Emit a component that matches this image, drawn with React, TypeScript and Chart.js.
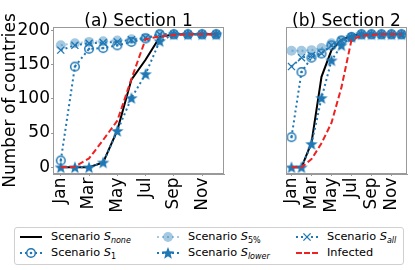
import React, { useEffect, useRef } from "react";
import { Chart, registerables } from "chart.js";

Chart.register(...registerables);

const MONTHS = ["Jan", "Feb", "Mar", "Apr", "May", "Jun", "Jul", "Aug", "Sep", "Oct", "Nov", "Dec"];
const X_TICKS = [0, 2, 4, 6, 8, 10];
const Y_TICKS = [0, 50, 100, 150, 200];
const TITLES = ["(a) Section 1", "(b) Section 2"];
const Y_TITLE = "Number of countries";

// Section 1
const sec1None = [0, 0, 0, 7, 54, 128, 157, 190, 194, 194, 194, 194];
const sec1S1 = [10, 147, 173, 174, 178, 183, 188, 194, 194, 194, 194, 194];
const sec1S5 = [178, 181, 183, 184, 185, 187, 189, 194, 194, 194, 194, 194];
const sec1Lower = [0, 0, 0, 7, 53, 101, 136, 184, 194, 194, 194, 194];
const sec1All = [171, 178, 181, 182, 183, 186, 189, 194, 194, 194, 194, 194];
const sec1Infected = [0, 1, 13, 40, 68, 129, 187, 191, 193, 194, 194, 194];

// Section 2
const sec2None = [0, 0, 36, 132, 171, 186, 192, 194, 194, 194, 194, 194];
const sec2S1 = [44, 139, 160, 166, 178, 185, 190, 194, 194, 194, 194, 194];
const sec2S5 = [170, 170, 171, 174, 181, 185, 190, 194, 194, 194, 194, 194];
const sec2Lower = [0, 0, 34, 101, 156, 178, 190, 194, 194, 194, 194, 194];
const sec2All = [147, 160, 163, 166, 178, 185, 190, 194, 194, 194, 194, 194];
const sec2Infected = [0, 0, 12, 35, 65, 117, 186, 192, 193, 194, 194, 194];

const BLUE = "#1f77b4";
const LIGHT = "rgba(31,119,180,0.4)";
const RED = "#ee2222";
const FRAME = "#999999";
const FONT = '"DejaVu Sans", sans-serif';

function makeRing(): HTMLCanvasElement {
  const c = document.createElement("canvas");
  c.width = 12; c.height = 12;
  const g = c.getContext("2d")!;
  g.strokeStyle = BLUE; g.lineWidth = 1.5;
  g.beginPath(); g.arc(6, 6, 4.3, 0, Math.PI * 2); g.stroke();
  g.fillStyle = BLUE;
  g.beginPath(); g.arc(6, 6, 1.3, 0, Math.PI * 2); g.fill();
  return c;
}

function starPath(g: CanvasRenderingContext2D, cx: number, cy: number, R: number) {
  const r = R * 0.42;
  g.beginPath();
  for (let k = 0; k < 10; k++) {
    const ang = -Math.PI / 2 + (k * Math.PI) / 5;
    const rad = k % 2 === 0 ? R : r;
    const px = cx + rad * Math.cos(ang);
    const py = cy + rad * Math.sin(ang);
    if (k === 0) g.moveTo(px, py); else g.lineTo(px, py);
  }
  g.closePath();
}

function makeStar(): HTMLCanvasElement {
  const c = document.createElement("canvas");
  c.width = 14; c.height = 14;
  const g = c.getContext("2d")!;
  g.fillStyle = BLUE;
  starPath(g, 7, 7.5, 6.5);
  g.fill();
  return c;
}

const pts = (arr: number[]) => arr.map((v, i) => ({ x: i, y: v }));

function buildDatasets(
  none: number[], s1: number[], s5: number[], lower: number[], all: number[], inf: number[],
  ring: HTMLCanvasElement, star: HTMLCanvasElement
) {
  const ds: any[] = [
    { label: "Snone", data: pts(none), borderColor: "#000", borderWidth: 2, pointRadius: 0 },
    { label: "S1", data: pts(s1), borderColor: BLUE, borderWidth: 2, borderDash: [2, 3],
      pointStyle: ring, pointRadius: 5 },
    { label: "S5", data: pts(s5), borderColor: LIGHT, borderWidth: 2, borderDash: [2, 3],
      pointStyle: "circle", pointRadius: 5, pointBackgroundColor: LIGHT, pointBorderWidth: 0 },
    { label: "Slower", data: pts(lower), borderColor: BLUE, borderWidth: 2, borderDash: [2, 3],
      pointStyle: star, pointRadius: 6 },
    { label: "Sall", data: pts(all), borderColor: BLUE, borderWidth: 2, borderDash: [2, 3],
      pointStyle: "crossRot", pointRadius: 5, pointBorderColor: BLUE, pointBorderWidth: 1.3 },
    { label: "Infected", data: pts(inf), borderColor: RED, borderWidth: 2, borderDash: [6, 3],
      pointRadius: 0 },
  ];
  return ds.map((d, i) => ({ ...d, order: ds.length - 1 - i, fill: false, tension: 0 }));
}

function framePlugin(title: string) {
  return {
    id: "frameTitle",
    afterDraw(chart: any) {
      const { ctx, chartArea: a } = chart;
      ctx.save();
      ctx.strokeStyle = FRAME;
      ctx.lineWidth = 1;
      const l = Math.round(a.left) + 0.5, t = Math.round(a.top) + 0.5;
      const r = Math.round(a.right) - 0.5, b = Math.round(a.bottom) - 0.5;
      ctx.strokeRect(l, t, r - l, b - t);
      ctx.fillStyle = "#000";
      ctx.font = `17px ${FONT}`;
      ctx.textAlign = "center";
      ctx.textBaseline = "alphabetic";
      ctx.fillText(title, (a.left + a.right) / 2, 25.5);
      ctx.restore();
    },
  };
}

function makeConfig(datasets: any[], title: string, showY: boolean, padL: number, padR: number): any {
  return {
    type: "line",
    data: { datasets },
    options: {
      animation: false,
      responsive: false,
      maintainAspectRatio: false,
      layout: { padding: { left: padL, right: padR, top: 27, bottom: 0 } },
      plugins: { legend: { display: false }, tooltip: { enabled: false }, title: { display: false } },
      scales: {
        x: {
          type: "linear",
          min: -0.55,
          max: 11.55,
          afterBuildTicks: (s: any) => { s.ticks = X_TICKS.map((v) => ({ value: v })); },
          afterFit: (s: any) => { s.height = 52; },
          ticks: {
            callback: (v: any) => MONTHS[v as number],
            minRotation: 90, maxRotation: 90, autoSkip: false, padding: 1.5,
            color: "#000", font: { family: FONT, size: 17 },
          },
          grid: { display: true, drawOnChartArea: false, drawTicks: true, tickLength: 2, color: FRAME },
          border: { display: true, color: FRAME },
        },
        y: {
          type: "linear",
          display: showY,
          min: -9.75,
          max: 204.75,
          afterBuildTicks: (s: any) => { s.ticks = Y_TICKS.map((v) => ({ value: v })); },
          afterFit: (s: any) => { s.width = 53; },
          ticks: { padding: 1, color: "#000", font: { family: FONT, size: 17 } },
          grid: { display: true, drawOnChartArea: false, drawTicks: true, tickLength: 2, color: FRAME },
          border: { display: true, color: FRAME },
          title: { display: true, text: Y_TITLE, color: "#000", font: { family: FONT, size: 17 }, padding: 0 },
        },
      },
    },
    plugins: [framePlugin(title)],
  };
}

function Handle({ kind }: { kind: string }) {
  const w = 22, h = 14, cy = 7;
  let line: any = null;
  let marker: any = null;
  if (kind === "none") line = <line x1={0} y1={cy} x2={w} y2={cy} stroke="#000" strokeWidth={2} />;
  else if (kind === "inf") line = <line x1={0} y1={cy} x2={w} y2={cy} stroke={RED} strokeWidth={2} strokeDasharray="6 2" />;
  else {
    const col = kind === "s5" ? LIGHT : BLUE;
    line = <line x1={0} y1={cy} x2={w} y2={cy} stroke={col} strokeWidth={2} strokeDasharray="2 3" />;
  }
  if (kind === "s1") {
    marker = (
      <g>
        <circle cx={11} cy={cy} r={4.3} fill="white" stroke={BLUE} strokeWidth={1.5} />
        <circle cx={11} cy={cy} r={1.3} fill={BLUE} />
      </g>
    );
  } else if (kind === "s5") {
    marker = <circle cx={11} cy={cy} r={5} fill={LIGHT} />;
  } else if (kind === "lower") {
    const R = 6.5, r = R * 0.42;
    const p: string[] = [];
    for (let k = 0; k < 10; k++) {
      const ang = -Math.PI / 2 + (k * Math.PI) / 5;
      const rad = k % 2 === 0 ? R : r;
      p.push(`${11 + rad * Math.cos(ang)},${cy + 0.5 + rad * Math.sin(ang)}`);
    }
    marker = <polygon points={p.join(" ")} fill={BLUE} />;
  } else if (kind === "all") {
    const d = 3.6;
    marker = (
      <g stroke={BLUE} strokeWidth={1.3}>
        <line x1={11 - d} y1={cy - d} x2={11 + d} y2={cy + d} />
        <line x1={11 - d} y1={cy + d} x2={11 + d} y2={cy - d} />
      </g>
    );
  }
  return (
    <svg width={w} height={h} style={{ position: "absolute", left: 0, top: 0, overflow: "visible" }}>
      {line}
      {marker}
    </svg>
  );
}

const SUB: React.CSSProperties = { fontSize: "8px", verticalAlign: "-3px", lineHeight: "0" };

const LEGEND_ITEMS = [
  { kind: "none", col: 0, row: 0, label: <>Scenario <i>S</i><span style={SUB}><i>none</i></span></> },
  { kind: "s1", col: 0, row: 1, label: <>Scenario <i>S</i><span style={SUB}>1</span></> },
  { kind: "s5", col: 1, row: 0, label: <>Scenario <i>S</i><span style={SUB}>5%</span></> },
  { kind: "lower", col: 1, row: 1, label: <>Scenario <i>S</i><span style={SUB}><i>lower</i></span></> },
  { kind: "all", col: 2, row: 0, label: <>Scenario <i>S</i><span style={SUB}><i>all</i></span></> },
  { kind: "inf", col: 2, row: 1, label: <>Infected</> },
];
const COL_TEXT_X = [51, 188, 327];
const ROW_Y = [237, 253];

export default function App() {
  const c1 = useRef<HTMLCanvasElement>(null);
  const c2 = useRef<HTMLCanvasElement>(null);

  useEffect(() => {
    const ring = makeRing();
    const star = makeStar();
    const ch1 = new Chart(
      c1.current!,
      makeConfig(buildDatasets(sec1None, sec1S1, sec1S5, sec1Lower, sec1All, sec1Infected, ring, star), TITLES[0], true, 0, 1)
    );
    const ch2 = new Chart(
      c2.current!,
      makeConfig(buildDatasets(sec2None, sec2S1, sec2S5, sec2Lower, sec2All, sec2Infected, ring, star), TITLES[1], false, 1, 5)
    );
    return () => { ch1.destroy(); ch2.destroy(); };
  }, []);

  return (
    <div style={{ position: "fixed", left: 0, top: 0, width: 415, height: 270, background: "#fff", fontFamily: FONT, overflow: "hidden" }}>
      <canvas ref={c1} width={232} height={226} style={{ position: "absolute", left: 0, top: 0, width: 232, height: 226 }} />
      <canvas ref={c2} width={183} height={226} style={{ position: "absolute", left: 232, top: 0, width: 183, height: 226 }} />
      <div style={{ position: "absolute", left: 14, top: 227, width: 388, height: 36, border: "1px solid #d0d0d0", borderRadius: 3, boxSizing: "content-box" }} />
      {LEGEND_ITEMS.map((it, i) => {
        const tx = COL_TEXT_X[it.col];
        const cy = ROW_Y[it.row];
        return (
          <React.Fragment key={i}>
            <div style={{ position: "absolute", left: tx - 31, top: cy - 7, width: 22, height: 14 }}>
              <Handle kind={it.kind} />
            </div>
            <div style={{ position: "absolute", left: tx, top: cy - 8, height: 16, lineHeight: "16px", fontSize: "11.3px", color: "#000", whiteSpace: "nowrap" }}>
              {it.label}
            </div>
          </React.Fragment>
        );
      })}
    </div>
  );
}
